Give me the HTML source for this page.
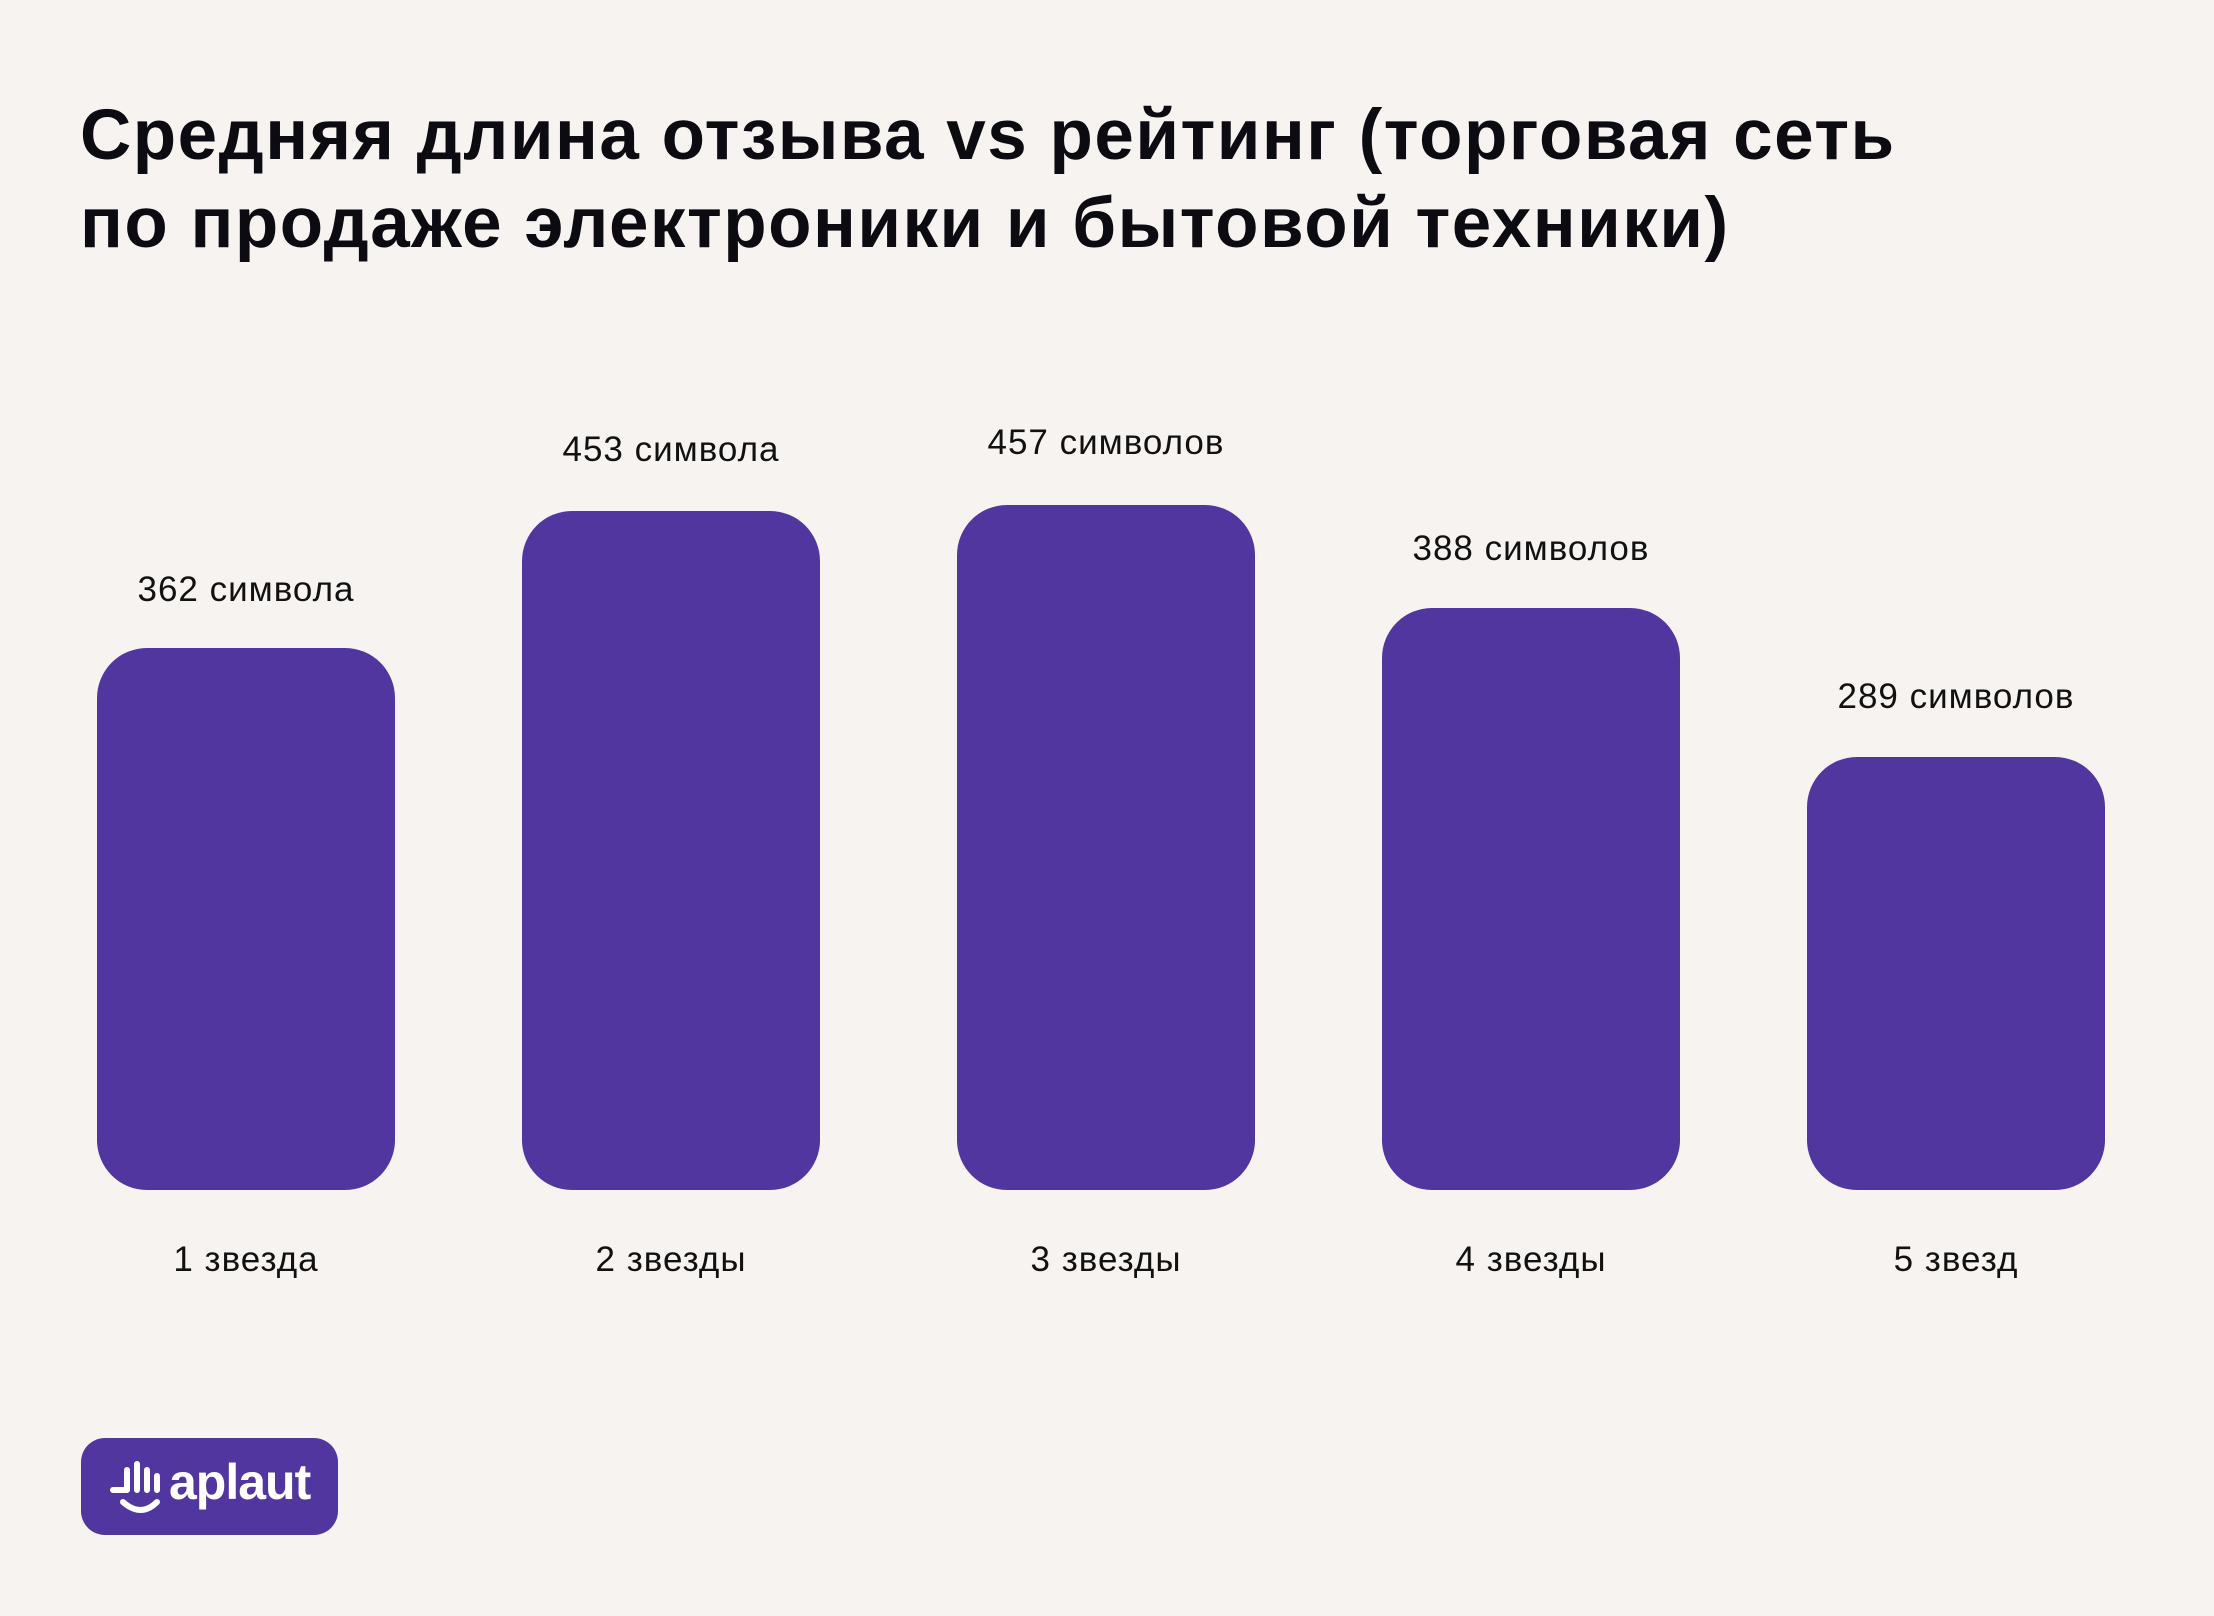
<!DOCTYPE html>
<html><head><meta charset="utf-8"><style>
body{margin:0;width:2214px;height:1616px;background:#F6F3F0;position:relative;overflow:hidden;font-family:"Liberation Sans","DejaVu Sans",sans-serif;color:#111}
.t{position:absolute;left:80px;top:92px;font-size:71px;font-weight:bold;line-height:88px;color:#0c0b12;letter-spacing:1.5px;white-space:nowrap}
.b{position:absolute;width:298px;background:#5236A0;border-radius:50px;bottom:426px}
.v,.c{position:absolute;width:500px;text-align:center;font-size:35px;letter-spacing:1px;white-space:nowrap;line-height:40px}
.logo{position:absolute;left:81px;top:1438px;width:257px;height:97px;background:#5236A0;border-radius:24px;color:#fff}
</style></head><body>
<div class="t">Средняя длина отзыва vs рейтинг (торговая сеть<br>по продаже электроники и бытовой техники)</div>

<div class="b" style="left:97px;top:648px"></div>
<div class="b" style="left:522px;top:511px"></div>
<div class="b" style="left:957px;top:505px"></div>
<div class="b" style="left:1382px;top:608px"></div>
<div class="b" style="left:1807px;top:757px"></div>

<div class="v" style="left:-4px;top:570px">362 символа</div>
<div class="v" style="left:421px;top:430px">453 символа</div>
<div class="v" style="left:856px;top:423px">457 символов</div>
<div class="v" style="left:1281px;top:529px">388 символов</div>
<div class="v" style="left:1706px;top:677px">289 символов</div>

<div class="c" style="left:-4px;top:1240px">1 звезда</div>
<div class="c" style="left:421px;top:1240px">2 звезды</div>
<div class="c" style="left:856px;top:1240px">3 звезды</div>
<div class="c" style="left:1281px;top:1240px">4 звезды</div>
<div class="c" style="left:1706px;top:1240px">5 звезд</div>

<div class="logo">
<svg width="60" height="60" style="position:absolute;left:28px;top:22px" viewBox="0 0 60 60" fill="none" stroke="#fff" stroke-width="6" stroke-linecap="round">
<path d="M4 30h14M18 30V10M28 30V4M38 30V10M48 30V16"/>
<path d="M14 42q18 16 34 0"/>
</svg>
<div style="position:absolute;left:88px;top:14px;font-size:50px;font-weight:bold;letter-spacing:-1px;line-height:60px">aplaut</div>
</div>
</body></html>
